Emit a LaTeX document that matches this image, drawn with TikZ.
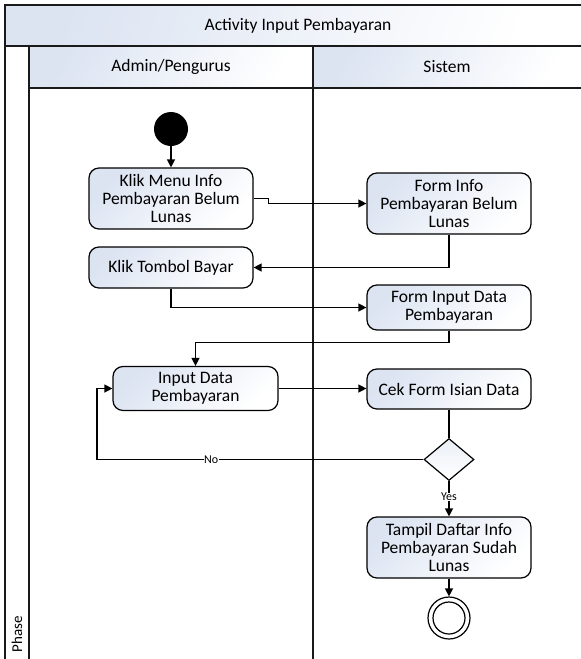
\documentclass[tikz,border=0pt]{standalone}
\usepackage{fontspec}
\setmainfont{Carlito}
\usetikzlibrary{arrows.meta,shapes.geometric}

\definecolor{tintblue}{HTML}{DCE4F2}
\definecolor{framegray}{HTML}{1A1A1A}

\tikzset{
  every node/.style={font=\fontsize{17.5}{17.8}\selectfont},
  frameline/.style={draw=framegray, line width=1.3pt},
  action/.style={draw=black, line width=1.2pt, rounded corners=10pt,
    top color=tintblue, bottom color=white, shading angle=45,
    minimum width=164pt, align=center, inner sep=2pt},
  flow/.style={draw=black, line width=1.3pt, -{Triangle[length=8pt,width=8pt]}},
  guard/.style={font=\fontsize{12}{13}\selectfont, fill=white, inner sep=0.5pt},
}

\begin{document}
\begin{tikzpicture}[x=1pt, y=-1pt]
\useasboundingbox (0,0) rectangle (581,659);

% swimlane frame
\shade[top color=tintblue, bottom color=white, shading angle=70] (5,5) rectangle (581,46);
\shade[top color=tintblue, bottom color=white, shading angle=60] (29,46) rectangle (313,88);
\shade[top color=tintblue, bottom color=white, shading angle=60] (313,46) rectangle (581,88);
\draw[frameline] (581,5) -- (5,5) -- (5,659);
\draw[frameline] (5,46) -- (581,46);
\draw[frameline] (29,46) -- (29,659);
\draw[frameline] (29,88) -- (581,88);
\draw[frameline] (313,46) -- (313,659);

\node (title) at (298,25.5) {Activity Input Pembayaran};
\node (laneA) at (171,67) {Admin/Pengurus};
\node (laneB) at (447,67) {Sistem};
\node[rotate=90, anchor=west, font=\fontsize{15}{16}\selectfont] (phase) at (17,656) {Phase};

% activities
\node[circle, fill=black, minimum size=34pt, inner sep=0pt] (start) at (171,129) {};
\node[action, minimum height=61pt] (menu) at (171,198.5) {Klik Menu Info\\Pembayaran Belum\\Lunas};
\node[action, minimum height=61pt] (forminfo) at (449,203.5) {Form Info\\Pembayaran Belum\\Lunas};
\node[action, minimum height=41pt] (bayar) at (171,267.5) {Klik Tombol Bayar};
\node[action, minimum height=45pt] (forminput) at (449,307.5) {Form Input Data\\Pembayaran};
\node[action, minimum height=44pt, minimum width=165pt] (input) at (195.5,388.5) {Input Data\\Pembayaran};
\node[action, minimum height=40pt] (cek) at (449,389) {Cek Form Isian Data};
\node[diamond, draw=black, line width=1.2pt, top color=tintblue!60, bottom color=white,
      minimum width=50pt, minimum height=42pt, inner sep=0pt] (valid) at (449,459.5) {};
\node[action, minimum height=61pt] (tampil) at (449,547.5) {Tampil Daftar Info\\Pembayaran Sudah\\Lunas};
\node[circle, draw=black, line width=1.2pt, minimum size=42pt, inner sep=0pt] (end) at (449,618) {};
\node[circle, draw=black, line width=1.2pt, minimum size=32pt, inner sep=0pt] (endin) at (449,618) {};

% control flow
\draw[flow] (start) -- (menu);
\draw[flow] (menu.east) -- ++(15,0) |- (forminfo.west);
\draw[flow] (forminfo.south) |- (bayar.east);
\draw[flow] (bayar.south) |- (forminput.west);
\draw[flow] (forminput.south) -- ++(0,12) -| (input.north);
\draw[flow] (input.east) -- (input.east -| cek.west);
\draw[draw=black, line width=1.3pt] (cek.south) -- (valid.north);
\coordinate (loop) at (97,459.5);
\draw[flow] (valid.west) -- node[guard, pos=0.65] {No} (loop) |- (input.west);
\draw[flow] (valid.south) -- node[guard, pos=0.45] {Yes} (tampil.north);
\draw[flow] (tampil.south) -- (end.north);
\end{tikzpicture}
\end{document}
